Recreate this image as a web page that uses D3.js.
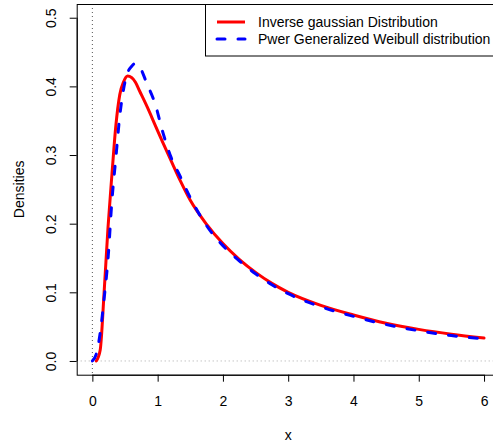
<!DOCTYPE html>
<html>
<head>
<meta charset="utf-8">
<script src="https://cdn.jsdelivr.net/npm/d3@7"></script>
<style>
  html, body { margin: 0; padding: 0; background: #fff; }
  svg { display: block; }
  text { font-family: "Liberation Sans", Arial, Helvetica, sans-serif; }
</style>
</head>
<body>
<svg id="chart" width="493" height="446"></svg>
<script>
// ---- data ----
const igX = [0.06, 0.12, 0.18, 0.24, 0.30, 0.36, 0.42, 0.48, 0.54, 0.60, 0.66, 0.72, 0.84, 0.96, 1.08, 1.20, 1.35, 1.50, 1.75, 2.00, 2.25, 2.50, 2.75, 3.00, 3.50, 4.00, 4.50, 5.00, 5.50, 6.00];
const igY = [0.000, 0.016, 0.100, 0.195, 0.272, 0.343, 0.388, 0.407, 0.415, 0.413, 0.406, 0.394, 0.370, 0.344, 0.318, 0.293, 0.262, 0.234, 0.199, 0.171, 0.148, 0.129, 0.113, 0.100, 0.081, 0.067, 0.055, 0.046, 0.039, 0.0335];

const pgwX = [0.00, 0.06, 0.12, 0.18, 0.24, 0.30, 0.36, 0.42, 0.48, 0.54, 0.60, 0.66, 0.72, 0.84, 0.96, 1.08, 1.20, 1.35, 1.50, 1.75, 2.00, 2.25, 2.50, 2.75, 3.00, 3.50, 4.00, 4.50, 5.00, 5.50, 6.00];
const pgwY = [0.000, 0.010, 0.041, 0.091, 0.149, 0.234, 0.296, 0.357, 0.397, 0.420, 0.429, 0.4335, 0.429, 0.403, 0.375, 0.333, 0.298, 0.268, 0.238, 0.197, 0.168, 0.146, 0.127, 0.111, 0.098, 0.079, 0.065, 0.053, 0.044, 0.037, 0.032];

const xTicks = [0, 1, 2, 3, 4, 5, 6];
const yTicks = [0.0, 0.1, 0.2, 0.3, 0.4, 0.5];
const legendLabels = ["Inverse gaussian Distribution", "Pwer Generalized Weibull distribution"];
const seriesColors = ["#ff0000", "#0000ff"];
const xLabel = "x";
const yLabel = "Densities";

// ---- layout ----
const FS = 14;
const plotL = 76.7, plotR = 499.7, plotT = 4, plotB = 374.7;
const svg = d3.select("#chart");

const x = d3.scaleLinear().domain([-0.24, 6.24]).range([plotL, plotR]);
const y = d3.scaleLinear().domain([-0.02, 0.52]).range([plotB, plotT]);

// reference lines (abline)
svg.append("line")
  .attr("x1", x(0)).attr("x2", x(0))
  .attr("y1", plotT).attr("y2", plotB)
  .attr("stroke", "#555").attr("stroke-width", 1)
  .attr("stroke-dasharray", "1,3");
svg.append("line")
  .attr("x1", plotL).attr("x2", plotR)
  .attr("y1", y(0)).attr("y2", y(0))
  .attr("stroke", "#aaa").attr("stroke-width", 1)
  .attr("stroke-dasharray", "1,3");

// curves
const line = d3.line().x(d => x(d[0])).y(d => y(d[1])).curve(d3.curveMonotoneX);
const igData = igX.map((v, i) => [v, igY[i]]);
const pgwData = pgwX.map((v, i) => [v, pgwY[i]]);

svg.append("path").datum(igData)
  .attr("d", line).attr("fill", "none")
  .attr("stroke", seriesColors[0]).attr("stroke-width", 3)
  .attr("stroke-linejoin", "round").attr("stroke-linecap", "round");
svg.append("path").datum(pgwData)
  .attr("d", line).attr("fill", "none")
  .attr("stroke", seriesColors[1]).attr("stroke-width", 3)
  .attr("stroke-dasharray", "8,13")
  .attr("stroke-linejoin", "round").attr("stroke-linecap", "round");

// plot box
svg.append("rect")
  .attr("x", plotL + 0.5).attr("y", plotT + 0.5)
  .attr("width", plotR - plotL).attr("height", plotB - plotT)
  .attr("fill", "none").attr("stroke", "#000").attr("stroke-width", 1);

// x axis
const gx = svg.append("g")
  .attr("transform", `translate(0,${plotB})`)
  .call(d3.axisBottom(x).tickValues(xTicks).tickSize(7).tickFormat(d3.format("d")));
gx.select(".domain").remove();
gx.selectAll(".tick line").attr("stroke", "#000");
gx.selectAll(".tick text")
  .attr("y", 31.8).attr("dy", 0)
  .attr("font-size", FS).attr("fill", "#000")
  .style("font-family", '"Liberation Sans", Arial, sans-serif');
svg.append("line")
  .attr("x1", x(xTicks[0])).attr("x2", x(xTicks[xTicks.length - 1]))
  .attr("y1", plotB + 0.5).attr("y2", plotB + 0.5)
  .attr("stroke", "#000");

// y axis
const gy = svg.append("g")
  .attr("transform", `translate(${plotL},0)`)
  .call(d3.axisLeft(y).tickValues(yTicks).tickSize(7).tickFormat(d3.format(".1f")));
gy.select(".domain").remove();
gy.selectAll(".tick line").attr("stroke", "#000");
gy.selectAll(".tick text")
  .attr("x", 0).attr("y", 0).attr("dy", 0)
  .attr("text-anchor", "middle")
  .attr("transform", `translate(${56 - plotL},0) rotate(-90)`)
  .attr("font-size", FS).attr("fill", "#000")
  .style("font-family", '"Liberation Sans", Arial, sans-serif');
svg.append("line")
  .attr("x1", plotL + 0.5).attr("x2", plotL + 0.5)
  .attr("y1", y(yTicks[0])).attr("y2", y(yTicks[yTicks.length - 1]))
  .attr("stroke", "#000");

// axis titles
svg.append("text")
  .attr("x", (plotL + plotR) / 2).attr("y", 440)
  .attr("text-anchor", "middle").attr("font-size", FS)
  .text(xLabel);
svg.append("text")
  .attr("transform", `translate(23.5,${(plotT + plotB) / 2}) rotate(-90)`)
  .attr("text-anchor", "middle").attr("font-size", FS)
  .text(yLabel);

// legend
const lg = svg.append("g");
lg.append("rect")
  .attr("x", 205.5).attr("y", plotT + 0.5)
  .attr("width", plotR - 205.5).attr("height", 51.5)
  .attr("fill", "#fff").attr("stroke", "#000").attr("stroke-width", 1);
const legY = [22, 39];
legendLabels.forEach((lab, i) => {
  lg.append("line")
    .attr("x1", 217).attr("x2", 245)
    .attr("y1", legY[i]).attr("y2", legY[i])
    .attr("stroke", seriesColors[i]).attr("stroke-width", 3)
    .attr("stroke-dasharray", i === 1 ? "8,13" : null)
    .attr("stroke-linecap", i === 1 ? "round" : "butt");
  lg.append("text")
    .attr("x", 258).attr("y", legY[i] + 5)
    .attr("font-size", FS).attr("fill", "#000")
    .text(lab);
});
</script>
</body>
</html>
